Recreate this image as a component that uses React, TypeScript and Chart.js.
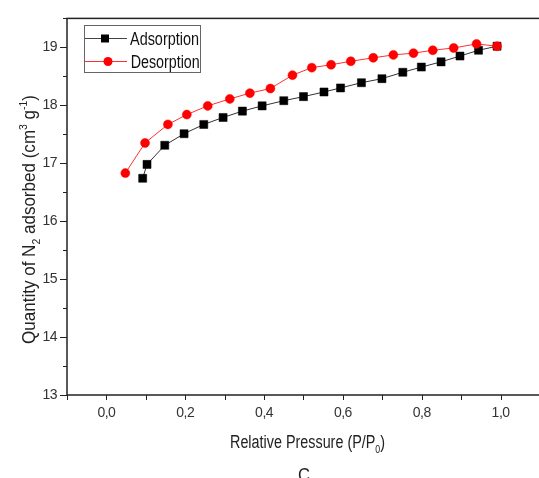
import React, { useEffect, useRef } from 'react';
import { Chart, registerables } from 'chart.js';

Chart.register(...registerables);

// Relative pressure (P/P0) and quantity adsorbed (cm3 g-1)
const adsorptionX = [0.092, 0.103, 0.148, 0.197, 0.247, 0.296, 0.345, 0.395, 0.450, 0.500, 0.552, 0.594, 0.647, 0.699, 0.752, 0.799, 0.849, 0.897, 0.944, 0.991];
const adsorptionY = [16.74, 16.98, 17.31, 17.51, 17.67, 17.79, 17.90, 17.99, 18.08, 18.15, 18.23, 18.30, 18.39, 18.46, 18.57, 18.66, 18.75, 18.85, 18.95, 19.02];
const desorptionX = [0.048, 0.098, 0.156, 0.204, 0.257, 0.313, 0.364, 0.416, 0.472, 0.521, 0.570, 0.620, 0.677, 0.728, 0.779, 0.828, 0.881, 0.939, 0.991];
const desorptionY = [16.83, 17.35, 17.67, 17.84, 17.99, 18.11, 18.21, 18.29, 18.52, 18.65, 18.70, 18.76, 18.82, 18.87, 18.90, 18.95, 18.99, 19.06, 19.02];

const xTickValues = [-0.1, 0, 0.1, 0.2, 0.3, 0.4, 0.5, 0.6, 0.7, 0.8, 0.9, 1.0, 1.1];
const xTickLabels = ['', '0,0', '', '0,2', '', '0,4', '', '0,6', '', '0,8', '', '1,0', ''];
const yTickValues = [13, 13.5, 14, 14.5, 15, 15.5, 16, 16.5, 17, 17.5, 18, 18.5, 19, 19.5];
const yTickLabels = ['13', '', '14', '', '15', '', '16', '', '17', '', '18', '', '19', ''];

const seriesNames = ['Adsorption', 'Desorption'];
const xTitle = ['Relative Pressure (P/P', '0', ')'];
const yTitle = ['Quantity of N', '2', ' adsorbed (cm', '3', ' g', '-1', ')'];
const caption = 'C';

const TICK_FONT = "'Liberation Sans Narrow', 'Liberation Sans', Arial, sans-serif";
const TEXT_FONT = "'Liberation Sans', Arial, sans-serif";

type Seg = { t: string; k?: 'sub' | 'sup' };

function drawRich(
  ctx: CanvasRenderingContext2D,
  segs: Seg[],
  size: number,
  targetW: number,
  cx: number,
  baseY: number,
  angle: number,
  color: string
) {
  ctx.save();
  ctx.letterSpacing = '0px';
  const fMain = `${size}px ${TEXT_FONT}`;
  const fSmall = `${Math.round(size * 0.62)}px ${TEXT_FONT}`;
  let total = 0;
  const widths = segs.map((s) => {
    ctx.font = s.k ? fSmall : fMain;
    const w = ctx.measureText(s.t).width;
    total += w;
    return w;
  });
  const sx = targetW / total;
  ctx.translate(cx, baseY);
  ctx.rotate(angle);
  ctx.scale(sx, 1);
  ctx.fillStyle = color;
  ctx.textBaseline = 'alphabetic';
  ctx.textAlign = 'left';
  let x = -total / 2;
  segs.forEach((s, i) => {
    ctx.font = s.k ? fSmall : fMain;
    const dy = s.k === 'sub' ? size * 0.28 : s.k === 'sup' ? -size * 0.42 : 0;
    ctx.fillText(s.t, x, dy);
    x += widths[i];
  });
  ctx.restore();
}

const decorPlugin = {
  id: 'decor',
  beforeDraw(chart: any) {
    chart.ctx.letterSpacing = '-0.5px';
  },
  afterDraw(chart: any) {
    const ctx: CanvasRenderingContext2D = chart.ctx;
    const { left, right, top, bottom } = chart.chartArea;
    const xs = chart.scales.x;
    const ys = chart.scales.y;
    ctx.save();
    ctx.letterSpacing = '0px';
    // frame
    ctx.strokeStyle = '#222';
    ctx.lineWidth = 1.5;
    ctx.strokeRect(left, top, right - left, bottom - top);
    // ticks
    ctx.lineWidth = 1;
    ctx.beginPath();
    xTickValues.forEach((v) => {
      const px = Math.round(xs.getPixelForValue(v)) + 0.5;
      ctx.moveTo(px, bottom);
      ctx.lineTo(px, bottom + 5);
    });
    yTickValues.forEach((v, i) => {
      const py = Math.round(ys.getPixelForValue(v)) + 0.5;
      const len = yTickLabels[i] ? 7 : 4;
      ctx.moveTo(left, py);
      ctx.lineTo(left - len, py);
    });
    ctx.stroke();

    // legend
    ctx.strokeStyle = '#666';
    ctx.lineWidth = 1;
    ctx.strokeRect(84.5, 25.5, 116, 47);
    ctx.strokeStyle = '#444';
    ctx.beginPath();
    ctx.moveTo(85, 38.5);
    ctx.lineTo(127, 38.5);
    ctx.stroke();
    ctx.fillStyle = '#000';
    ctx.fillRect(101, 34.5, 8, 8);
    ctx.strokeStyle = '#ff3030';
    ctx.beginPath();
    ctx.moveTo(85, 61.5);
    ctx.lineTo(127, 61.5);
    ctx.stroke();
    ctx.fillStyle = '#ff0000';
    ctx.beginPath();
    ctx.arc(108, 61.5, 4.5, 0, Math.PI * 2);
    ctx.fill();
    ctx.restore();

    drawRich(ctx, [{ t: seriesNames[0] }], 18, 69, 130 + 34.5, 45, 0, '#111');
    drawRich(ctx, [{ t: seriesNames[1] }], 18, 69, 130.7 + 34.5, 68.3, 0, '#111');

    // axis titles
    drawRich(
      ctx,
      [{ t: xTitle[0] }, { t: xTitle[1], k: 'sub' }, { t: xTitle[2] }],
      18,
      155,
      307.5,
      448,
      0,
      '#222'
    );
    drawRich(
      ctx,
      [
        { t: yTitle[0] },
        { t: yTitle[1], k: 'sub' },
        { t: yTitle[2] },
        { t: yTitle[3], k: 'sup' },
        { t: yTitle[4] },
        { t: yTitle[5], k: 'sup' },
        { t: yTitle[6] },
      ],
      18,
      249,
      35,
      219.5,
      -Math.PI / 2,
      '#222'
    );
    drawRich(ctx, [{ t: caption }], 18, 12, 304, 481, 0, '#222');
    ctx.letterSpacing = '0px';
  },
};

export default function App() {
  const ref = useRef<HTMLCanvasElement>(null);
  useEffect(() => {
    const canvas = ref.current!;
    const chart = new Chart(canvas, {
      type: 'line',
      data: {
        datasets: [
          {
            label: seriesNames[1],
            data: desorptionX.map((x, i) => ({ x, y: desorptionY[i] })),
            borderColor: '#ff3030',
            backgroundColor: '#ff0000',
            pointBackgroundColor: '#ff0000',
            pointBorderColor: '#ff0000',
            borderWidth: 1,
            pointStyle: 'circle',
            pointRadius: 4.5,
            pointBorderWidth: 0.5,
            order: 0,
          },
          {
            label: seriesNames[0],
            data: adsorptionX.map((x, i) => ({ x, y: adsorptionY[i] })),
            borderColor: '#333',
            backgroundColor: '#000',
            pointBackgroundColor: '#000',
            pointBorderColor: '#000',
            borderWidth: 1,
            pointStyle: 'rect',
            pointRadius: 5.7,
            pointBorderWidth: 0.5,
            order: 1,
          },
        ],
      },
      options: {
        responsive: false,
        animation: false,
        devicePixelRatio: 1,
        layout: { padding: { top: 14, right: 8, left: 0, bottom: 0 } },
        plugins: {
          legend: { display: false },
          title: { display: false },
          tooltip: { enabled: false },
        },
        scales: {
          x: {
            type: 'linear',
            min: -0.1,
            max: 1.1,
            afterBuildTicks: (s: any) => {
              s.ticks = xTickValues.map((v) => ({ value: v }));
            },
            afterFit: (s: any) => {
              s.height = 83;
            },
            ticks: {
              autoSkip: false,
              maxRotation: 0,
              padding: 10,
              color: '#333',
              font: { family: TICK_FONT, size: 14 },
              callback: (_v: any, i: number) => xTickLabels[i],
            },
            grid: { display: false, drawTicks: false },
            border: { display: false },
          },
          y: {
            type: 'linear',
            min: 13,
            max: 19.5,
            afterBuildTicks: (s: any) => {
              s.ticks = yTickValues.map((v) => ({ value: v }));
            },
            afterFit: (s: any) => {
              s.width = 67;
            },
            ticks: {
              autoSkip: false,
              padding: 10,
              color: '#333',
              font: { family: TICK_FONT, size: 14 },
              callback: (_v: any, i: number) => yTickLabels[i],
            },
            grid: { display: false, drawTicks: false },
            border: { display: false },
          },
        },
      },
      plugins: [decorPlugin],
    } as any);
    return () => chart.destroy();
  }, []);
  return (
    <div
      style={{
        position: 'fixed',
        left: 0,
        top: 0,
        width: 539,
        height: 478,
        overflow: 'hidden',
        background: '#fff',
      }}
    >
      <canvas ref={ref} width={550} height={478} style={{ width: 550, height: 478, display: 'block' }} />
    </div>
  );
}
